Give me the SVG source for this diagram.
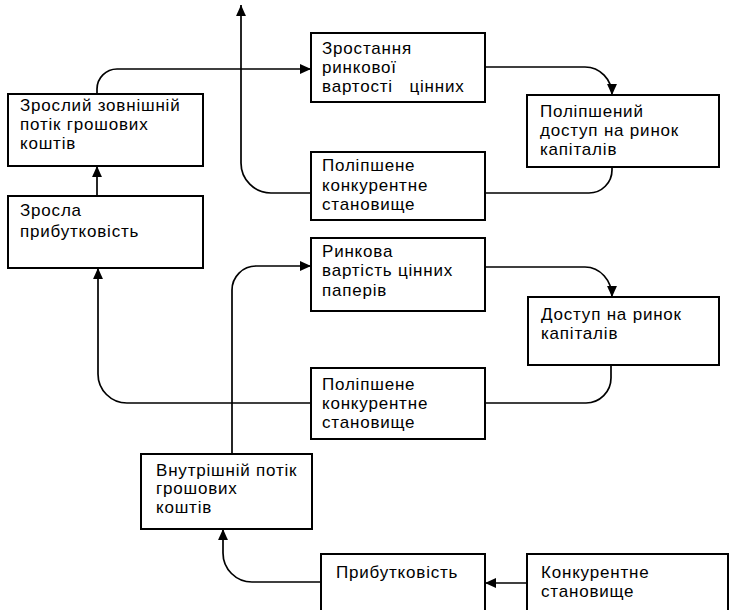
<svg xmlns="http://www.w3.org/2000/svg" width="729" height="610" viewBox="0 0 729 610">
<defs>
<style>
.box{fill:#fff;stroke:#000;stroke-width:2}
text{font-family:"Liberation Sans",Arial,sans-serif;font-size:17px;letter-spacing:0.8px;fill:#000;white-space:pre}
.c{fill:none;stroke:#000;stroke-width:1.7}
</style>
<marker id="ah" viewBox="0 0 10 10" refX="10" refY="5" markerWidth="11" markerHeight="11" markerUnits="userSpaceOnUse" orient="auto">
<path d="M0,0.5 L10,5 L0,9.5 Z" fill="#000"/>
</marker>
</defs>
<rect width="729" height="610" fill="#fff"/>
<g id="connectors">
<path class="c" d="M311,193 H271 A30,30 0 0 1 241,163 V5" marker-end="url(#ah)"/>
<path class="c" d="M97,94 V89 A20,20 0 0 1 117,69 H311" marker-end="url(#ah)"/>
<path class="c" d="M485,67 H585 A27,28 0 0 1 612,95" marker-end="url(#ah)"/>
<path class="c" d="M612,167 V170 A23,23 0 0 1 589,193 H485"/>
<path class="c" d="M97,196 V166" marker-end="url(#ah)"/>
<path class="c" d="M311,403 H127 A29,29 0 0 1 98,374 V268" marker-end="url(#ah)"/>
<path class="c" d="M232,454 V290 A24,24 0 0 1 256,266 H311" marker-end="url(#ah)"/>
<path class="c" d="M485,267 H585 A27,30 0 0 1 612,297" marker-end="url(#ah)"/>
<path class="c" d="M611,365 V378 A25,25 0 0 1 586,403 H485"/>
<path class="c" d="M321,582 H252 A29,29 0 0 1 223,553 V529" marker-end="url(#ah)"/>
<path class="c" d="M527,583 H485" marker-end="url(#ah)"/>
</g>
<g id="n1"><rect class="box" x="8" y="94" width="195" height="72"/>
<text x="20" y="111">Зрослий зовнішній</text><text x="20" y="130">потік грошових</text><text x="20" y="149">коштів</text></g>
<g id="n2"><rect class="box" x="8" y="196" width="195" height="72"/>
<text x="20" y="216">Зросла</text><text x="20" y="237">прибутковість</text></g>
<g id="n3"><rect class="box" x="311" y="33" width="174" height="69"/>
<text x="322" y="54">Зростання</text><text x="322" y="73">ринкової</text><text x="322" y="92">вартості   цінних</text></g>
<g id="n4"><rect class="box" x="527" y="95" width="192" height="72"/>
<text x="540" y="117">Поліпшений</text><text x="540" y="136">доступ на ринок</text><text x="540" y="155">капіталів</text></g>
<g id="n5"><rect class="box" x="311" y="152" width="174" height="68"/>
<text x="322" y="171">Поліпшене</text><text x="322" y="191">конкурентне</text><text x="322" y="210">становище</text></g>
<g id="n6"><rect class="box" x="311" y="238" width="174" height="73"/>
<text x="322" y="257">Ринкова</text><text x="322" y="276">вартість цінних</text><text x="322" y="296">паперів</text></g>
<g id="n7"><rect class="box" x="528" y="297" width="191" height="68"/>
<text x="541" y="320">Доступ на ринок</text><text x="541" y="339">капіталів</text></g>
<g id="n8"><rect class="box" x="311" y="368" width="174" height="71"/>
<text x="322" y="390">Поліпшене</text><text x="322" y="409">конкурентне</text><text x="322" y="428">становище</text></g>
<g id="n9"><rect class="box" x="141" y="454" width="171" height="75"/>
<text x="156" y="476">Внутрішній потік</text><text x="156" y="494">грошових</text><text x="156" y="513">коштів</text></g>
<g id="n10"><rect class="box" x="321" y="554" width="164" height="70"/>
<text x="336" y="578">Прибутковість</text></g>
<g id="n11"><rect class="box" x="527" y="554" width="201" height="70"/>
<text x="541" y="578">Конкурентне</text><text x="541" y="597">становище</text></g>
</svg>
